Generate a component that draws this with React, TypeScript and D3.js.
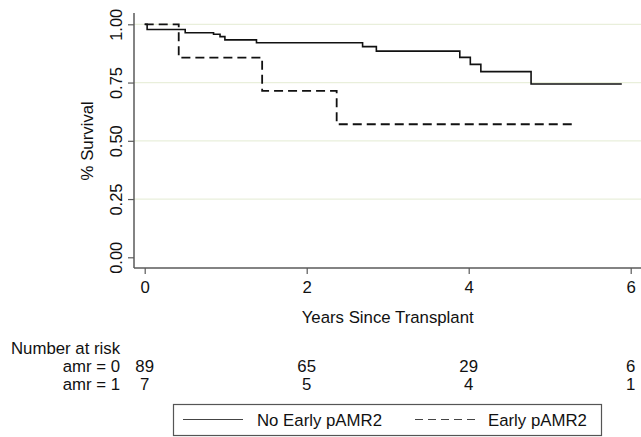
import React, { useEffect, useRef } from "react";
import * as d3 from "d3";

// survival curve for amr = 0 (No Early pAMR2)
const noEarlyTimes = [0, 0.03, 0.5, 0.85, 0.93, 0.99, 1.38, 2.69, 2.86, 3.89, 4.02, 4.15, 4.77, 5.89];
const noEarlySurv = [1.0, 0.978, 0.964, 0.957, 0.947, 0.933, 0.921, 0.904, 0.885, 0.858, 0.828, 0.797, 0.744, 0.744];

// survival curve for amr = 1 (Early pAMR2)
const earlyTimes = [0, 0.42, 1.45, 2.37, 5.28];
const earlySurv = [1.0, 0.857, 0.714, 0.571, 0.571];

const xTicks = [0, 2, 4, 6];
const yTicks = [0, 0.25, 0.5, 0.75, 1];
const gridTicks = [0.25, 0.5, 0.75, 1];

// number at risk table
const riskTimes = [0, 2, 4, 6];
const riskAmr0 = [89, 65, 29, 6];
const riskAmr1 = [7, 5, 4, 1];

const legendLabels = ["No Early pAMR2", "Early pAMR2"];

const FONT = "'Liberation Sans', Arial, Helvetica, sans-serif";
const FS = 16.8;

export default function App() {
  const ref = useRef<SVGSVGElement>(null);

  useEffect(() => {
    const svg = d3.select(ref.current);
    svg.selectAll("*").remove();

    const x = d3.scaleLinear().domain([0, 6]).range([144.7, 630.7]);
    const y = d3.scaleLinear().domain([0, 1]).range([257.3, 24.3]);
    const axisX = 134, axisY = 268;

    // gridlines
    svg.append("g")
      .selectAll("line")
      .data(gridTicks)
      .join("line")
      .attr("x1", axisX)
      .attr("x2", 641)
      .attr("y1", d => y(d))
      .attr("y2", d => y(d))
      .attr("stroke", "#e9efdb")
      .attr("stroke-width", 1.2);

    // y axis
    const yAxis = svg.append("g")
      .attr("transform", `translate(${axisX},0)`)
      .call(d3.axisLeft(y).tickValues(yTicks).tickSize(6).tickSizeOuter(0).tickFormat(d3.format(".2f")));
    yAxis.select(".domain").remove();
    yAxis.append("line")
      .attr("x1", 0).attr("x2", 0).attr("y1", 13).attr("y2", axisY)
      .attr("stroke", "#5a5a5a").attr("stroke-width", 1.5);
    yAxis.selectAll(".tick line").attr("stroke", "#5a5a5a").attr("stroke-width", 1.2);
    yAxis.selectAll(".tick text")
      .attr("font-family", FONT)
      .attr("font-size", 16.5)
      .attr("fill", "#111")
      .attr("text-anchor", "middle")
      .attr("dy", null)
      .attr("x", null)
      .attr("transform", "translate(-12.5,0) rotate(-90)");

    // x axis
    const xAxis = svg.append("g")
      .attr("transform", `translate(0,${axisY})`)
      .call(d3.axisBottom(x).tickValues(xTicks).tickSize(6).tickSizeOuter(0).tickFormat(d3.format("d")));
    xAxis.select(".domain").remove();
    xAxis.append("line")
      .attr("x1", axisX).attr("x2", 641).attr("y1", 0).attr("y2", 0)
      .attr("stroke", "#5a5a5a").attr("stroke-width", 1.5);
    xAxis.selectAll(".tick line").attr("stroke", "#5a5a5a").attr("stroke-width", 1.2);
    xAxis.selectAll(".tick text")
      .attr("font-family", FONT)
      .attr("font-size", FS)
      .attr("fill", "#111")
      .attr("dy", null)
      .attr("y", 24.8);

    // axis titles
    svg.append("text")
      .attr("transform", `translate(93,${(y(0) + y(1)) / 2}) rotate(-90)`)
      .attr("text-anchor", "middle")
      .attr("font-family", FONT)
      .attr("font-size", FS)
      .attr("fill", "#111")
      .text("% Survival");

    svg.append("text")
      .attr("x", (x(0) + x(6)) / 2)
      .attr("y", 323)
      .attr("text-anchor", "middle")
      .attr("font-family", FONT)
      .attr("font-size", FS)
      .attr("fill", "#111")
      .text("Years Since Transplant");

    // survival curves
    const line = d3.line<[number, number]>()
      .x(d => x(d[0]))
      .y(d => y(d[1]))
      .curve(d3.curveStepAfter);

    const noEarly = noEarlyTimes.map((t, i) => [t, noEarlySurv[i]] as [number, number]);
    const early = earlyTimes.map((t, i) => [t, earlySurv[i]] as [number, number]);

    svg.append("path")
      .datum(noEarly)
      .attr("d", line)
      .attr("fill", "none")
      .attr("stroke", "#111")
      .attr("stroke-width", 1.6);

    svg.append("path")
      .datum(early)
      .attr("d", line)
      .attr("fill", "none")
      .attr("stroke", "#111")
      .attr("stroke-width", 1.8)
      .attr("stroke-dasharray", "9,5");

    // number at risk
    const table = svg.append("g")
      .attr("font-family", FONT)
      .attr("font-size", FS)
      .attr("fill", "#111");

    table.append("text").attr("x", 11).attr("y", 353.5).text("Number at risk");
    table.append("text").attr("x", 120).attr("y", 371.5).attr("text-anchor", "end").text("amr = 0");
    table.append("text").attr("x", 120).attr("y", 389.5).attr("text-anchor", "end").text("amr = 1");

    table.selectAll(".r0")
      .data(riskAmr0)
      .join("text")
      .attr("class", "r0")
      .attr("x", (d, i) => x(riskTimes[i]))
      .attr("y", 371.5)
      .attr("text-anchor", "middle")
      .text(d => d);

    table.selectAll(".r1")
      .data(riskAmr1)
      .join("text")
      .attr("class", "r1")
      .attr("x", (d, i) => x(riskTimes[i]))
      .attr("y", 389.5)
      .attr("text-anchor", "middle")
      .text(d => d);

    // legend
    const legend = svg.append("g");
    legend.append("rect")
      .attr("x", 173.5)
      .attr("y", 404.5)
      .attr("width", 428)
      .attr("height", 31)
      .attr("fill", "#fff")
      .attr("stroke", "#555")
      .attr("stroke-width", 1.2);

    const items = [
      { x1: 183, x2: 243, tx: 257, dash: null },
      { x1: 415, x2: 478, tx: 488, dash: "8,5" },
    ];
    items.forEach((it, i) => {
      legend.append("line")
        .attr("x1", it.x1).attr("x2", it.x2)
        .attr("y1", 419.5).attr("y2", 419.5)
        .attr("stroke", "#444")
        .attr("stroke-width", 1.2)
        .attr("stroke-dasharray", it.dash);
      legend.append("text")
        .attr("x", it.tx)
        .attr("y", 425.5)
        .attr("font-family", FONT)
        .attr("font-size", FS)
        .attr("fill", "#111")
        .text(legendLabels[i]);
    });
  }, []);

  return (
    <svg
      ref={ref}
      width={641}
      height={437}
      style={{ position: "absolute", left: 0, top: 0, background: "#fff" }}
    />
  );
}
